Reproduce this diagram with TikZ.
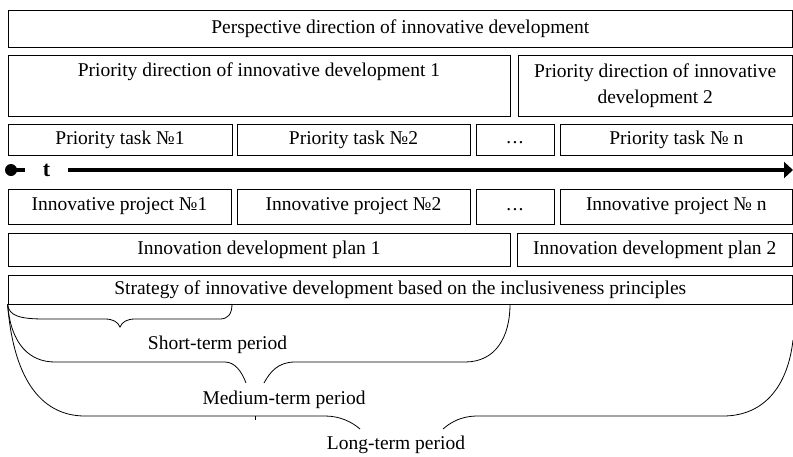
\documentclass[tikz,border=0pt]{standalone}
\usepackage{fontspec}
\setmainfont{Liberation Serif}
\usetikzlibrary{arrows.meta}
\newcommand\fs{\fontsize{19.5}{26}\selectfont}
\newcommand\dotsx{\vphantom{Priority}.\kern1.2pt.\kern1.2pt.}
\newcommand\mybox[6]{\node[box, minimum width={#4-#2}, minimum height={#5-#3}] (#1) at ({(#2+#4)/2},{(#3+#5)/2}) {#6};}
\tikzset{
  box/.style={draw, line width=0.8pt, inner sep=0pt, font=\fs, align=center},
  lbl/.style={inner sep=0pt, font=\fs, align=center},
  brace/.style={line width=0.8pt},
  axis/.style={line width=4.5pt, -{Triangle[length=9pt,width=16pt]}}
}
\begin{document}
\begin{tikzpicture}[x=1pt,y=-1pt]
\useasboundingbox (0,0) rectangle (793,456);
% row 1
\mybox{r1}{8}{10}{792.5}{47}{Perspective direction of innovative development}
% row 2
\mybox{r2a}{8}{55}{510}{116}{}
\node[lbl] (r2at) at (259,72) {Priority direction of innovative development 1};
\mybox{r2b}{518}{55}{792.5}{116}{Priority direction of innovative\\development 2}
% row 3
\mybox{r3a}{8}{124}{232}{155}{Priority task №1}
\mybox{r3b}{237}{124}{470}{155}{Priority task №2}
\mybox{r3c}{476}{124}{554}{155}{\dotsx}
\mybox{r3d}{560}{124}{792.5}{155}{Priority task № n}
% axis
\coordinate (ax0) at (11,170);
\coordinate (ax1) at (793,170);
\draw[axis] (ax0) -- (ax1);
\fill (ax0) circle (6);
\node[fill=white, inner sep=0pt, minimum width=43, minimum height=29, font=\fontsize{22}{26}\selectfont\bfseries] (t) at (46.5,170) {t};
% row 4
\mybox{r4a}{8}{189}{231}{224}{Innovative project №1}
\mybox{r4b}{237}{189}{470}{224}{Innovative project №2}
\mybox{r4c}{476}{189}{554}{224}{\dotsx}
\mybox{r4d}{560}{189}{792.5}{224}{Innovative project № n}
% row 5
\mybox{r5a}{8}{233}{510}{266}{Innovation development plan 1}
\mybox{r5b}{517}{233}{792.5}{266}{Innovation development plan 2}
% row 6
\mybox{r6}{8}{275}{792.5}{304}{Strategy of innovative development based on the inclusiveness principles}
% braces
\draw[brace] (r6.south west) .. controls (9,316) and (20,319) .. (45,319) -- (105,319)
  .. controls (113,319) and (118,322) .. (120,327)
  .. controls (122,322) and (127,319) .. (135,319) -- (220,319)
  .. controls (228,319) and (232,314) .. (232,304);
\draw[brace] (r6.south west) .. controls (11,345) and (30,362) .. (55,362) -- (225,362)
  .. controls (235,362) and (242,372) .. (246,383);
\draw[brace] (264,383) .. controls (270,372) and (278,362) .. (295,362) -- (465,362)
  .. controls (495,362) and (510,338) .. (510,304);
\draw[brace] (r6.south west) .. controls (14,385) and (45,416) .. (85,416) -- (325,416)
  .. controls (340,416) and (352,422) .. (360,429);
\draw[brace] (443,429) .. controls (450,423) and (460,416) .. (478,416) -- (723,416)
  .. controls (765,416) and (788,385) .. (793,340);
\draw[brace] (255,416) -- (255,420);
\node[lbl] (short) at (217.5,345) {Short-term period};
\node[lbl] (medium) at (284,400) {Medium-term period};
\node[lbl] (long) at (396,445) {Long-term period};
\end{tikzpicture}
\end{document}
